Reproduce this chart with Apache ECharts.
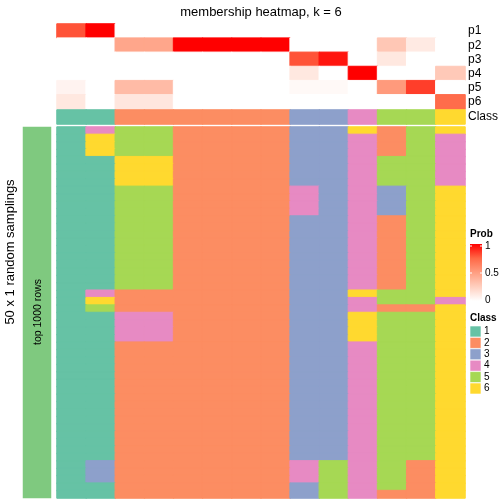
<!DOCTYPE html>
<html>
<head>
<meta charset="utf-8">
<script src="https://cdn.jsdelivr.net/npm/echarts@6/dist/echarts.min.js"></script>
<style>html,body{margin:0;padding:0;background:#fff;}#c{width:504px;height:504px;}</style>
</head>
<body>
<div id="c"></div>
<script>
// ---------- data ----------
const columns = ['1','2','3','4','5','6','7','8','9','10','11','12','13','14'];
const probRows = ['p1','p2','p3','p4','p5','p6'];
const p1 = [0.80, 1.00, 0, 0, 0, 0, 0, 0, 0, 0, 0, 0, 0, 0];
const p2 = [0, 0, 0.46, 0.46, 1, 1, 1, 1, 0, 0, 0, 0.29, 0.11, 0];
const p3 = [0, 0, 0, 0, 0, 0, 0, 0, 0.80, 0.95, 0, 0.12, 0, 0];
const p4 = [0, 0, 0, 0, 0, 0, 0, 0, 0.12, 0, 1, 0, 0, 0.28];
const p5 = [0.06, 0, 0.35, 0.35, 0, 0, 0, 0, 0.03, 0.03, 0, 0.52, 0.85, 0];
const p6 = [0.12, 0, 0.13, 0.13, 0, 0, 0, 0, 0, 0, 0, 0, 0, 0.73];
const classRow = [1, 1, 2, 2, 2, 2, 2, 2, 3, 3, 4, 5, 5, 6];
// 50 random samplings x 14 columns, each digit = class
const samplings = [
  '14552222336256',
  '16552222334254','16552222334254','16552222334254',
  '11662222334554','11662222334554','11662222334554','11662222334554',
  '11552222434356','11552222434356','11552222434356','11552222434356',
  '11552222334256','11552222334256','11552222334256','11552222334256','11552222334256',
  '11552222334256','11552222334256','11552222334256','11552222334256','11552222334256',
  '14222222336556',
  '16222222334554',
  '15222222334226',
  '11442222336556','11442222336556','11442222336556','11442222336556',
  '11222222334556','11222222334556','11222222334556','11222222334556',
  '11222222334556','11222222334556','11222222334556','11222222334556',
  '11222222334556','11222222334556','11222222334556','11222222334556',
  '11222222334556','11222222334556','11222222334556','11222222334556',
  '13222222454526','13222222454526','13222222454526',
  '11222222354526',
  '11222222354226'
];
const classLabels = ['1','2','3','4','5','6'];
const classColors = ['#66C2A5','#FC8D62','#8DA0CB','#E78AC3','#A6D854','#FFD92F'];
const probTicks = ['1','0.5','0'];
const probStops = ['#FFFFFF','#FFCFBF','#FF9E81','#FF6846','#FF0000'];

// ---------- build ----------
const FONT = '"Liberation Sans", Arial, sans-serif';
const probAll = [p1,p2,p3,p4,p5,p6];
const seam = (col) => ({borderColor: col, borderWidth: 1});
const probData = [];
probAll.forEach((row, r) => row.forEach((v, c) =>
  probData.push({value: [c, r, v], itemStyle: seam(echarts.color.lerp(v, probStops))})));
const classData = classRow.map((v, c) => ({value: [c, 0, v], itemStyle: seam(classColors[v - 1])}));
const sampRowNames = samplings.map((_, i) => 'r' + (i + 1));
const sampData = [];
samplings.forEach((s, r) => s.split('').forEach((ch, c) =>
  sampData.push({value: [c, r, +ch], itemStyle: seam(classColors[+ch - 1])})));

const chart = echarts.init(document.getElementById('c'), null, {renderer: 'canvas'});
const hidden = {show: false};
const xCat = (gi) => ({type: 'category', gridIndex: gi, data: columns, show: false});
const rightLabels = {show: true, interval: 0, fontSize: 12, color: '#000', fontFamily: FONT, margin: 3};

const graphics = [
  {type: 'text', x: 261, y: 12, style: {text: 'membership heatmap, k = 6', font: '13px ' + FONT, fill: '#000', textAlign: 'center', textVerticalAlign: 'middle'}},
  {type: 'text', x: 10, y: 252, rotation: Math.PI / 2, style: {text: '50 x 1 random samplings', font: '13px ' + FONT, fill: '#000', textAlign: 'center', textVerticalAlign: 'middle'}},
  {type: 'text', x: 38, y: 312, rotation: Math.PI / 2, style: {text: 'top 1000 rows', font: '10.5px ' + FONT, fill: '#000', textAlign: 'center', textVerticalAlign: 'middle'}},
  // Prob legend
  {type: 'text', x: 470, y: 234, style: {text: 'Prob', font: 'bold 10px ' + FONT, fill: '#000', textAlign: 'left', textVerticalAlign: 'middle'}},
  {type: 'rect', shape: {x: 470, y: 244, width: 12, height: 57},
    style: {fill: new echarts.graphic.LinearGradient(0, 0, 0, 1, probStops.slice().reverse().map((c, i, a) => ({offset: i / (a.length - 1), color: c})))}},
  // Class legend
  {type: 'text', x: 470, y: 318, style: {text: 'Class', font: 'bold 10px ' + FONT, fill: '#000', textAlign: 'left', textVerticalAlign: 'middle'}}
];
probTicks.forEach((t, i) => {
  const y = 246 + i * 27;
  graphics.push({type: 'line', shape: {x1: 470, y1: y, x2: 472, y2: y}, style: {stroke: '#fff', lineWidth: 1}});
  graphics.push({type: 'line', shape: {x1: 480, y1: y, x2: 482, y2: y}, style: {stroke: '#fff', lineWidth: 1}});
  graphics.push({type: 'text', x: 485, y: y, style: {text: t, font: '10px ' + FONT, fill: '#000', textAlign: 'left', textVerticalAlign: 'middle'}});
});
classLabels.forEach((lab, i) => {
  const y = 326 + i * 11.4;
  graphics.push({type: 'rect', shape: {x: 470, y: y, width: 11, height: 11}, style: {fill: classColors[i], stroke: '#fff', lineWidth: 0.6}});
  graphics.push({type: 'text', x: 484, y: y + 5.5, style: {text: lab, font: '10px ' + FONT, fill: '#000', textAlign: 'left', textVerticalAlign: 'middle'}});
});
graphics.forEach(g => { g.z = 100; });

chart.setOption({
  animation: false,
  backgroundColor: '#fff',
  grid: [
    {left: 57, top: 24, width: 408, height: 85},
    {left: 57, top: 110, width: 408, height: 14},
    {left: 57, top: 127, width: 408, height: 371},
    {left: 23, top: 127, width: 28, height: 371}
  ],
  xAxis: [xCat(0), xCat(1), xCat(2), {type: 'category', gridIndex: 3, data: ['g'], show: false}],
  yAxis: [
    {type: 'category', gridIndex: 0, data: probRows, inverse: true, position: 'right', axisLine: hidden, axisTick: hidden, axisLabel: rightLabels, splitLine: hidden},
    {type: 'category', gridIndex: 1, data: ['Class'], position: 'right', axisLine: hidden, axisTick: hidden, axisLabel: rightLabels, splitLine: hidden},
    {type: 'category', gridIndex: 2, data: sampRowNames, inverse: true, show: false},
    {type: 'category', gridIndex: 3, data: ['top 1000 rows'], show: false}
  ],
  visualMap: [
    {type: 'continuous', seriesIndex: 0, min: 0, max: 1, show: false, inRange: {color: probStops}},
    {type: 'piecewise', seriesIndex: [1, 2], show: false,
      pieces: classLabels.map((l, i) => ({value: +l, color: classColors[i]}))}
  ],
  series: [
    {type: 'heatmap', xAxisIndex: 0, yAxisIndex: 0, data: probData},
    {type: 'heatmap', xAxisIndex: 1, yAxisIndex: 1, data: classData},
    {type: 'heatmap', xAxisIndex: 2, yAxisIndex: 2, data: sampData},
    {type: 'heatmap', xAxisIndex: 3, yAxisIndex: 3, data: [[0, 0, 1]], itemStyle: {color: '#7FC97F', borderWidth: 0}}
  ],
  graphic: graphics
});
</script>
</body>
</html>
